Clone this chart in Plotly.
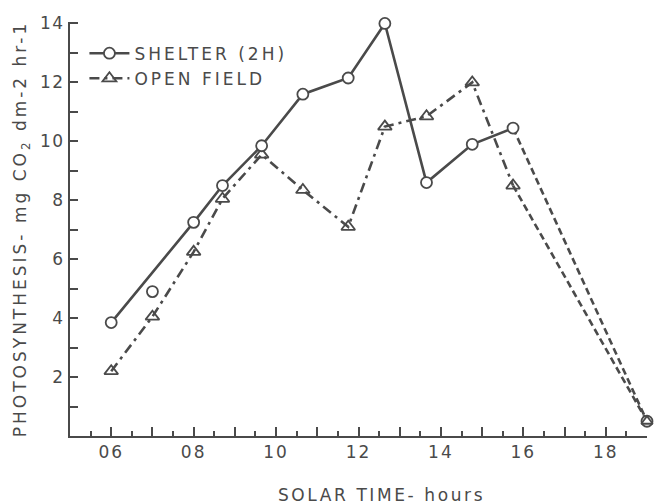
import plotly.graph_objects as go

# ---- data ----
shelter_time = [6.0, 7.0, 8.0, 8.7, 9.65, 10.65, 11.75, 12.64, 13.65, 14.76, 15.75, 19.0]
shelter_value = [3.85, 4.9, 7.25, 8.5, 9.85, 11.6, 12.15, 14.0, 8.6, 9.9, 10.45, 0.5]

open_time = [6.0, 7.0, 8.0, 8.7, 9.65, 10.65, 11.75, 12.64, 13.65, 14.76, 15.75, 19.0]
open_value = [2.2, 4.05, 6.25, 8.05, 9.55, 8.35, 7.1, 10.5, 10.85, 12.0, 8.5, 0.5]

x_label_vals = [6, 8, 10, 12, 14, 16, 18]
x_label_text = ["06", "08", "10", "12", "14", "16", "18"]
x_odd_hours = [7, 9, 11, 13, 15, 17]
y_label_vals = [2, 4, 6, 8, 10, 12, 14]
y_label_text = ["2", "4", "6", "8", "10", "12", "14"]

INK = "#4a4a4a"
FONT = "DejaVu Sans"
LW = 2.6
DASHDOT = "10px,5px,3px,5px"
DASHED = "7px,4px"

fig = go.Figure()

# dashed closing segments (evening), drawn first so markers sit on top
fig.add_trace(go.Scatter(
    x=shelter_time[-2:], y=shelter_value[-2:], mode="lines",
    line=dict(color=INK, width=LW, dash=DASHED),
    showlegend=False, hoverinfo="skip", cliponaxis=False))
fig.add_trace(go.Scatter(
    x=open_time[-2:], y=open_value[-2:], mode="lines",
    line=dict(color=INK, width=LW, dash=DASHED),
    showlegend=False, hoverinfo="skip", cliponaxis=False))

# open field: dash-dot line through all daytime points
fig.add_trace(go.Scatter(
    x=open_time[:-1], y=open_value[:-1], mode="lines+markers",
    name="OPEN FIELD",
    line=dict(color=INK, width=LW, dash=DASHDOT),
    marker=dict(symbol="triangle-up-open", size=12, color=INK,
                line=dict(width=1.8, color=INK)),
    cliponaxis=False))

# shelter: solid line (the 07 h point lies off the fitted curve)
sh_line_x = [shelter_time[0]] + shelter_time[2:-1]
sh_line_y = [shelter_value[0]] + shelter_value[2:-1]
fig.add_trace(go.Scatter(
    x=sh_line_x, y=sh_line_y, mode="lines+markers",
    name="SHELTER (2H)",
    line=dict(color=INK, width=LW),
    marker=dict(symbol="circle", size=11, color="white",
                line=dict(width=1.8, color=INK)),
    cliponaxis=False))

# remaining markers (07 h shelter point and the 19 h points)
fig.add_trace(go.Scatter(
    x=[shelter_time[1], shelter_time[-1]], y=[shelter_value[1], shelter_value[-1]],
    mode="markers",
    marker=dict(symbol="circle", size=11, color="white",
                line=dict(width=1.8, color=INK)),
    showlegend=False, cliponaxis=False))
fig.add_trace(go.Scatter(
    x=[open_time[-1]], y=[open_value[-1]], mode="markers",
    marker=dict(symbol="triangle-up-open", size=10, color=INK,
                line=dict(width=1.8, color=INK)),
    showlegend=False, cliponaxis=False))

fig.update_layout(
    width=657, height=504,
    margin=dict(l=70, r=10, t=22, b=68),
    paper_bgcolor="white", plot_bgcolor="white",
    font=dict(family=FONT, color=INK, size=16),
    legend=dict(
        x=0.025, y=0.967, xanchor="left", yanchor="top",
        bgcolor="rgba(0,0,0,0)", traceorder="reversed",
        font=dict(size=17, family=FONT, color=INK),
        itemwidth=40, tracegroupgap=0),
    xaxis=dict(
        range=[5, 19], showgrid=False, zeroline=False, automargin=False,
        showline=True, linecolor=INK, linewidth=2,
        tickmode="array", tickvals=x_label_vals, ticktext=x_label_text,
        ticks="inside", ticklen=9, tickwidth=2, tickcolor=INK,
        tickfont=dict(size=17, family=FONT, color=INK),
        minor=dict(dtick=0.5, tick0=5, ticks="inside", ticklen=5,
                   tickwidth=2, tickcolor=INK, showgrid=False),
    ),
    xaxis2=dict(
        overlaying="x", matches="x", range=[5, 19], showgrid=False,
        zeroline=False, automargin=False, showline=False,
        tickmode="array", tickvals=x_odd_hours, showticklabels=False,
        ticks="inside", ticklen=9, tickwidth=2, tickcolor=INK,
        side="bottom", anchor="y",
    ),
    yaxis=dict(
        range=[0, 14.05], showgrid=False, zeroline=False, automargin=False,
        showline=True, linecolor=INK, linewidth=2,
        tickmode="array", tickvals=y_label_vals, ticktext=y_label_text,
        ticks="inside", ticklen=8, tickwidth=2, tickcolor=INK,
        tickfont=dict(size=17, family=FONT, color=INK),
        minor=dict(dtick=1, tick0=0, ticks="inside", ticklen=8,
                   tickwidth=2, tickcolor=INK, showgrid=False),
        title=dict(text="PHOTOSYNTHESIS- mg CO<sub>2</sub> dm-2 hr-1",
                   font=dict(size=17, family=FONT, color=INK), standoff=12),
    ),
    annotations=[dict(
        text="SOLAR TIME- hours", xref="paper", yref="paper",
        x=0.54, y=0, yshift=-59, xanchor="center", yanchor="middle",
        showarrow=False, font=dict(size=17, family=FONT, color=INK))],
)

# a hidden helper trace keeps the overlay axis (odd-hour ticks) drawn
fig.add_trace(go.Scatter(x=[open_time[0]], y=[open_value[0]], xaxis="x2",
                         mode="markers", marker=dict(opacity=0),
                         showlegend=False, hoverinfo="skip"))

post = """
document.body.style.margin = '0';
document.body.style.padding = '0';
var gd = document.getElementById('{plot_id}');
function spaceOut(){
  var rules = [['.legendtext','3px'], ['.g-ytitle text','3px'],
               ['.annotation-text','2.6px'], ['.xtick text','2px'],
               ['.ytick text','1.5px']];
  rules.forEach(function(r){
    gd.querySelectorAll(r[0]).forEach(function(t){ t.style.letterSpacing = r[1]; });
  });
  gd.querySelectorAll('.legend [clip-path], .legend .scrollbox').forEach(function(e){
    e.removeAttribute('clip-path');
  });
}
spaceOut();
if (gd.on) { gd.on('plotly_afterplot', spaceOut); }
"""

fig.write_html("out.html", post_script=post, config={"displayModeBar": False})
